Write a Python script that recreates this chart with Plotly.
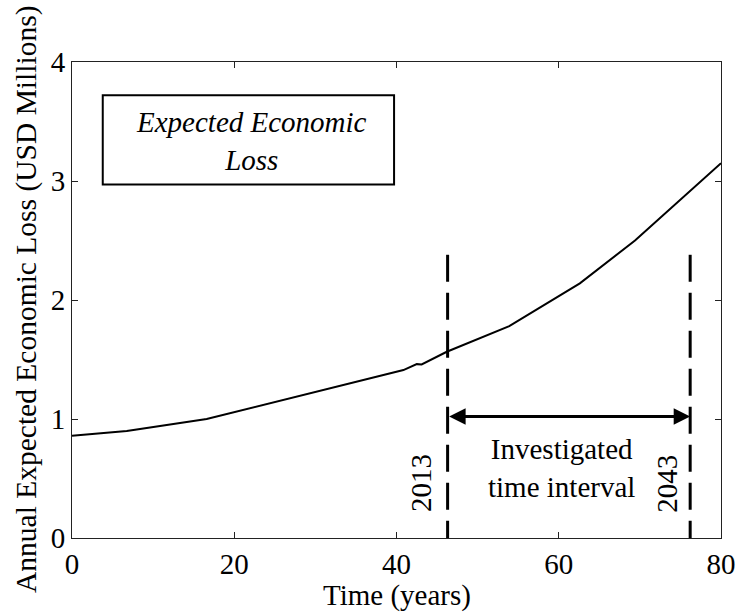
import plotly.graph_objects as go

# Data
years = [0, 6.75, 16.6, 28.1, 35.6, 40.85, 42.5, 43.1, 46.2, 53.9, 62.6, 69.4, 80]
loss = [0.86, 0.90, 1.0, 1.195, 1.32, 1.411, 1.461, 1.458, 1.565, 1.78, 2.14, 2.50, 3.15]

interval_x = [46.3, 76.2]
interval_labels = ["2013", "2043"]
interval_top = 2.38
arrow_y = 1.02

x_ticks = [0, 20, 40, 60, 80]
y_ticks = [0, 1, 2, 3, 4]

FONT = "Liberation Serif, Times New Roman, serif"
FS = 29

fig = go.Figure()

fig.add_trace(go.Scatter(x=years, y=loss, mode="lines",
                         line=dict(color="black", width=2), showlegend=False,
                         hoverinfo="skip"))

for xv in interval_x:
    fig.add_trace(go.Scatter(x=[xv, xv], y=[interval_top, 0], mode="lines",
                             line=dict(color="black", width=3, dash="27px,11px"),
                             showlegend=False, hoverinfo="skip"))

annotations = []
# double arrow
annotations.append(dict(x=interval_x[1], y=arrow_y, ax=interval_x[0], ay=arrow_y,
                        xref="x", yref="y", axref="x", ayref="y", text="",
                        showarrow=True, arrowhead=2, arrowside="end+start",
                        arrowsize=1.1, arrowwidth=3, arrowcolor="black",
                        standoff=0, startstandoff=0))
# rotated year labels
label_pos = [(43.1, 0.46), (73.4, 0.46)]
for (lx, ly), txt in zip(label_pos, interval_labels):
    annotations.append(dict(x=lx, y=ly, xref="x", yref="y", text=txt,
                            textangle=-90, showarrow=False,
                            font=dict(family=FONT, size=FS, color="black")))
annotations.append(dict(x=60.3, y=0.587, xref="x", yref="y",
                        text="Investigated<br>time interval", showarrow=False,
                        font=dict(family=FONT, size=FS, color="black")))
# box text
annotations.append(dict(x=22.1, y=3.34, xref="x", yref="y",
                        text="<i>Expected Economic<br>Loss</i>", showarrow=False,
                        font=dict(family=FONT, size=FS, color="black")))
# axis titles
annotations.append(dict(x=0.5, y=0, xref="paper", yref="paper", yshift=-57,
                        xanchor="center", yanchor="middle", text="Time (years)",
                        showarrow=False, font=dict(family=FONT, size=FS, color="black")))
annotations.append(dict(x=0, y=0.5, xref="paper", yref="paper", xshift=-46,
                        xanchor="center", yanchor="middle", textangle=-90,
                        text="Annual Expected Economic Loss (USD Millions)",
                        showarrow=False, font=dict(family=FONT, size=29.5, color="black")))

fig.add_shape(type="rect", x0=3.79, x1=39.7, y0=2.97, y1=3.72, xref="x", yref="y",
              line=dict(color="black", width=2), fillcolor="rgba(0,0,0,0)")

axis_common = dict(showline=True, linecolor="#222", linewidth=1, mirror="ticks",
                   ticks="inside", ticklen=6, tickcolor="#222", showgrid=False,
                   zeroline=False, automargin=False,
                   tickfont=dict(family=FONT, size=FS, color="black"))

fig.update_layout(
    width=740, height=615,
    margin=dict(l=72, r=19, t=62, b=77),
    plot_bgcolor="white", paper_bgcolor="white",
    xaxis=dict(range=[0, 80], tickvals=x_ticks, **axis_common),
    yaxis=dict(range=[0, 4], tickvals=y_ticks, **axis_common),
    annotations=annotations,
    showlegend=False,
)

fig.write_html("out.html", config={"displayModeBar": False},
               post_script="document.body.style.margin='0';")
